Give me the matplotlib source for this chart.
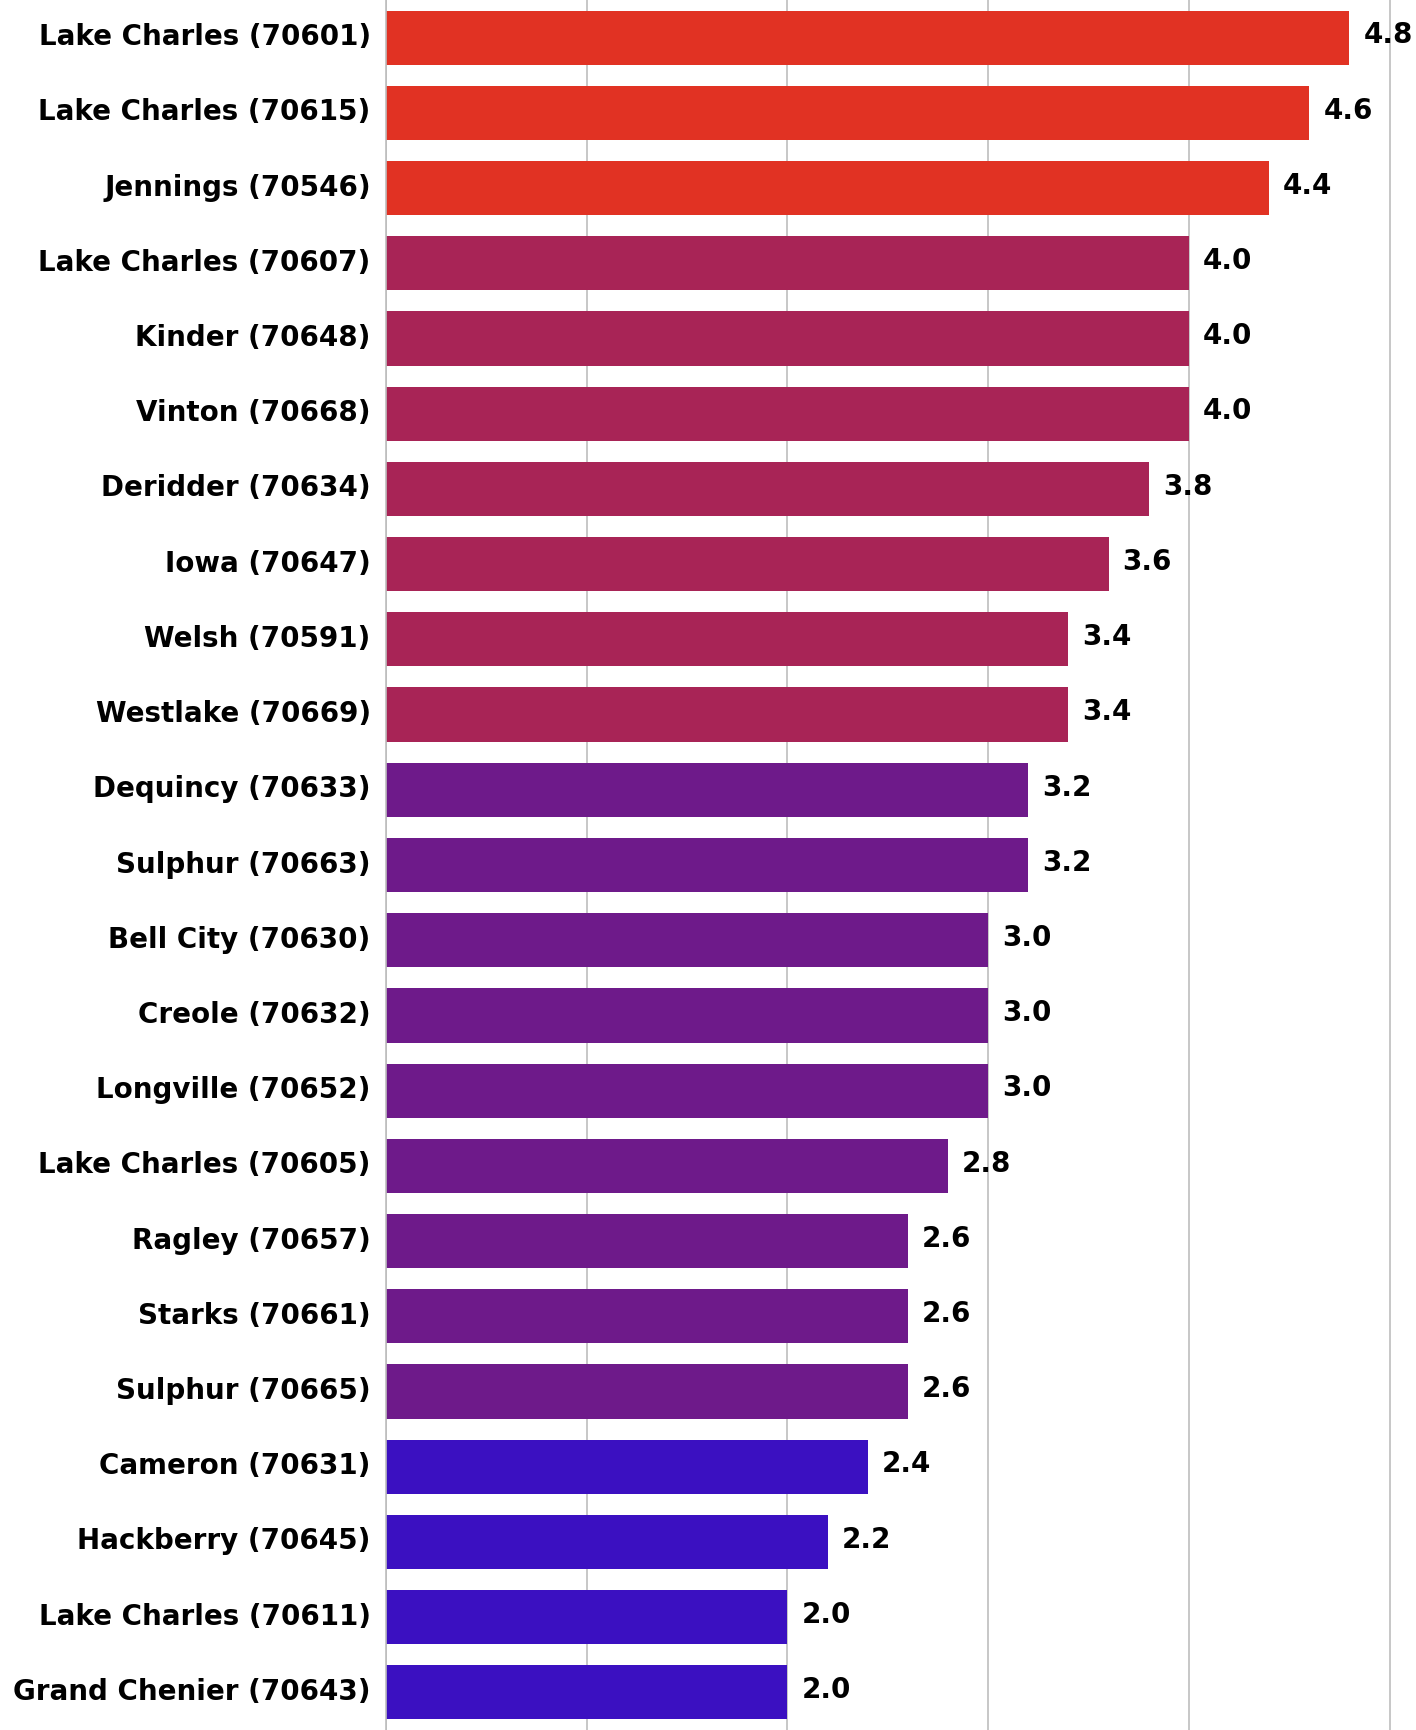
import numpy as np
import matplotlib.pyplot as plt
from matplotlib.transforms import ScaledTranslation

# zip code areas and their values, top to bottom
places = ['Lake Charles (70601)', 'Lake Charles (70615)', 'Jennings (70546)',
          'Lake Charles (70607)', 'Kinder (70648)', 'Vinton (70668)',
          'Deridder (70634)', 'Iowa (70647)', 'Welsh (70591)', 'Westlake (70669)',
          'Dequincy (70633)', 'Sulphur (70663)', 'Bell City (70630)',
          'Creole (70632)', 'Longville (70652)', 'Lake Charles (70605)',
          'Ragley (70657)', 'Starks (70661)', 'Sulphur (70665)',
          'Cameron (70631)', 'Hackberry (70645)', 'Lake Charles (70611)',
          'Grand Chenier (70643)']
values = [4.8, 4.6, 4.4, 4.0, 4.0, 4.0, 3.8, 3.6, 3.4, 3.4, 3.2, 3.2, 3.0,
          3.0, 3.0, 2.8, 2.6, 2.6, 2.6, 2.4, 2.2, 2.0, 2.0]
groups = [0, 0, 0, 1, 1, 1, 1, 1, 1, 1, 2, 2, 2, 2, 2, 2, 2, 2, 2, 3, 3, 3, 3]
palette = ['#E13223', '#A82456', '#6E1A8A', '#3B10C1']

fig = plt.figure(figsize=(14.16, 17.30), dpi=100)
ax = fig.add_axes([386 / 1416, 0, 1030 / 1416, 1])

y = np.arange(len(places))
colors = [palette[g] for g in groups]
ax.barh(y, values, height=0.72, color=colors, zorder=2)

for yi, v in zip(y, values):
    ax.text(v + 0.07, yi - 0.03, f'{v:.1f}', va='center', ha='left',
            fontsize=20, fontweight='bold', family='DejaVu Sans', zorder=3)

ax.set_ylim(len(places) - 0.5, -0.5)
ax.set_xlim(0, 5.132)
ax.set_xticks([0, 1, 2, 3, 4, 5])
ax.set_xticklabels([])
ax.set_yticks(y)
ax.set_yticklabels(places, fontsize=20, fontweight='bold', family='DejaVu Sans')
ax.tick_params(axis='y', length=0, pad=11)
ax.tick_params(axis='x', length=0)
# nudge the names up a little so they sit level with the bars
up = ScaledTranslation(0, 0.035, fig.dpi_scale_trans)
for lab in ax.get_yticklabels():
    lab.set_transform(lab.get_transform() + up)
ax.grid(axis='x', color='#BDBDBD', linewidth=1.2, zorder=0)
for s in ['top', 'right', 'bottom']:
    ax.spines[s].set_visible(False)
ax.spines['left'].set_color('#BDBDBD')
ax.spines['left'].set_linewidth(1.2)

fig.savefig('out.png', dpi=100)
